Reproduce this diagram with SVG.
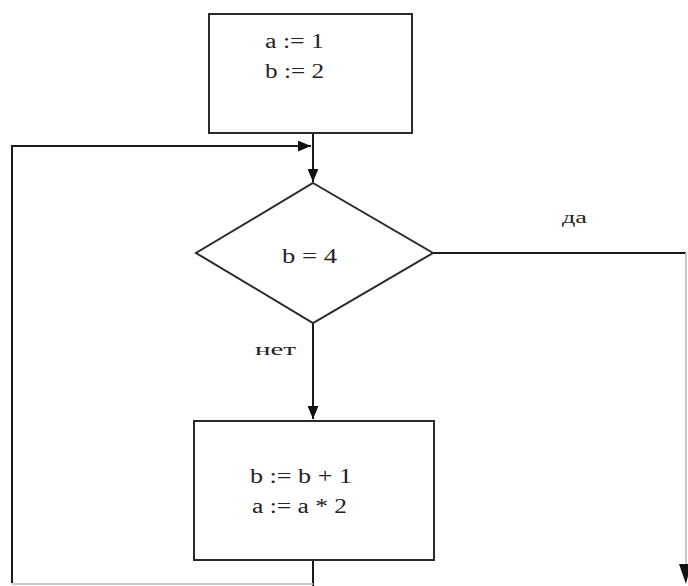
<svg xmlns="http://www.w3.org/2000/svg" width="688" height="586" viewBox="0 0 688 586">
<style>
.shape{fill:#fff;stroke:#2a2a2a;stroke-width:2}
.line{fill:none;stroke:#1a1a1a;stroke-width:2}
.faint{fill:none;stroke:#c8c8c8;stroke-width:2}
.t{font-family:"Liberation Serif","DejaVu Serif","Times New Roman",serif;font-size:20px;fill:#222}
.lbl{font-family:"Liberation Serif","DejaVu Serif","Times New Roman",serif;font-size:17px;fill:#222}
</style>
<defs>
<marker id="arr" viewBox="0 0 12 10" refX="12" refY="5" markerWidth="6.5" markerHeight="5.5" orient="auto" markerUnits="strokeWidth">
<path d="M0,0 L12,5 L0,10 z" fill="#111"/>
</marker>
</defs>
<rect width="688" height="586" fill="#fff"/>
<g id="connectors">
<line class="line" x1="313" y1="133" x2="313" y2="182" marker-end="url(#arr)"/>
<polyline class="line" points="12,583 12,146 311,146" marker-end="url(#arr)"/>
<line class="line" x1="313" y1="560" x2="313" y2="586"/>
<line class="faint" x1="12" y1="584" x2="313" y2="584"/>
<line class="line" x1="313" y1="323" x2="313" y2="419" marker-end="url(#arr)"/>
<line class="line" x1="433" y1="253" x2="686" y2="253"/>
<line class="faint" x1="686" y1="253" x2="686" y2="570"/>
<path d="M679,564 L686,584 L691,564 z" fill="#111"/>
<text class="lbl" x="562" y="223" textLength="25" lengthAdjust="spacingAndGlyphs">да</text>
<text class="lbl" x="255" y="355" textLength="41" lengthAdjust="spacingAndGlyphs">нет</text>
</g>
<g id="init">
<rect class="shape" x="209" y="14" width="203" height="119"/>
<text class="t" x="265" y="48" textLength="59" lengthAdjust="spacingAndGlyphs">a := 1</text>
<text class="t" x="265" y="78" textLength="59" lengthAdjust="spacingAndGlyphs">b := 2</text>
</g>
<g id="cond">
<polygon class="shape" points="313,183 433,253 313,323 196,253"/>
<text class="t" x="282" y="263" textLength="55" lengthAdjust="spacingAndGlyphs">b = 4</text>
</g>
<g id="body">
<rect class="shape" x="194" y="421" width="240" height="139"/>
<text class="t" x="250" y="483" textLength="102" lengthAdjust="spacingAndGlyphs">b := b + 1</text>
<text class="t" x="252" y="513" textLength="95" lengthAdjust="spacingAndGlyphs">a := a * 2</text>
</g>
</svg>
